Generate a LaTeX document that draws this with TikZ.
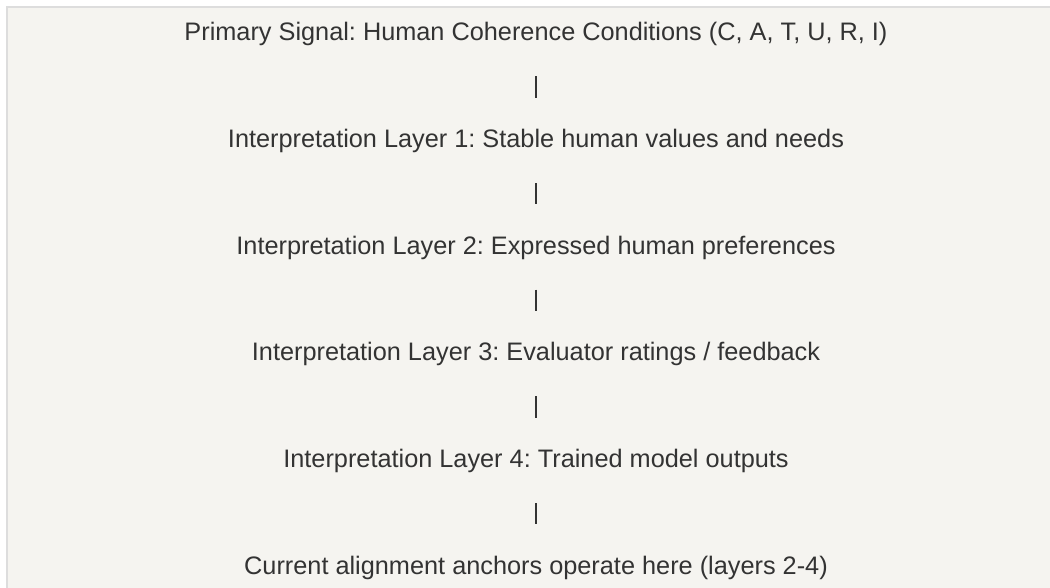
\documentclass[tikz,border=0pt]{standalone}
\usepackage{fontspec}
\setmainfont{Liberation Sans}
\usepackage{tikz}
\usetikzlibrary{positioning}
\frenchspacing
\definecolor{paperSoft}{RGB}{245,244,240}
\definecolor{edgeGray}{RGB}{221,221,221}
\definecolor{inkText}{RGB}{51,51,51}

\tikzset{
  layer/.style={font=\fontsize{12.65}{15}\selectfont, text=inkText, inner sep=0pt,
    text height=0pt, text depth=0pt, anchor=base},
  link/.style={draw=inkText, line width=1pt, shorten <=17pt, shorten >=24.33pt}
}

\begin{document}
\begin{tikzpicture}[x=0.5pt, y=-0.5pt]
        \useasboundingbox (0,0) rectangle (1050,588);
        \clip (0,0) rectangle (1050,588);
        \fill[white] (0,0) rectangle (1050,588);
        \draw[edgeGray, fill=paperSoft, line width=0.75pt] (7,7) rectangle (1080,620);
        % signal chain, one line each
        \node[layer] (L0) at (536,41) {Primary Signal: Human Coherence Conditions (C, A, T, U, R, I)};
        \node[layer] (L1) at (536,147.67) {Interpretation Layer 1: Stable human values and needs};
        \node[layer] (L2) at (536,254.33) {Interpretation Layer 2: Expressed human preferences};
        \node[layer] (L3) at (536,361) {Interpretation Layer 3: Evaluator ratings / feedback};
        \node[layer] (L4) at (536,467.67) {Interpretation Layer 4: Trained model outputs};
        \node[layer] (L5) at (536,574.33) {Current alignment anchors operate here (layers 2-4)};
        \foreach \i/\j in {0/1, 1/2, 2/3, 3/4, 4/5}{
          \draw[link] (L\i.south) -- (L\j.north);
        }
      \end{tikzpicture}
\end{document}
